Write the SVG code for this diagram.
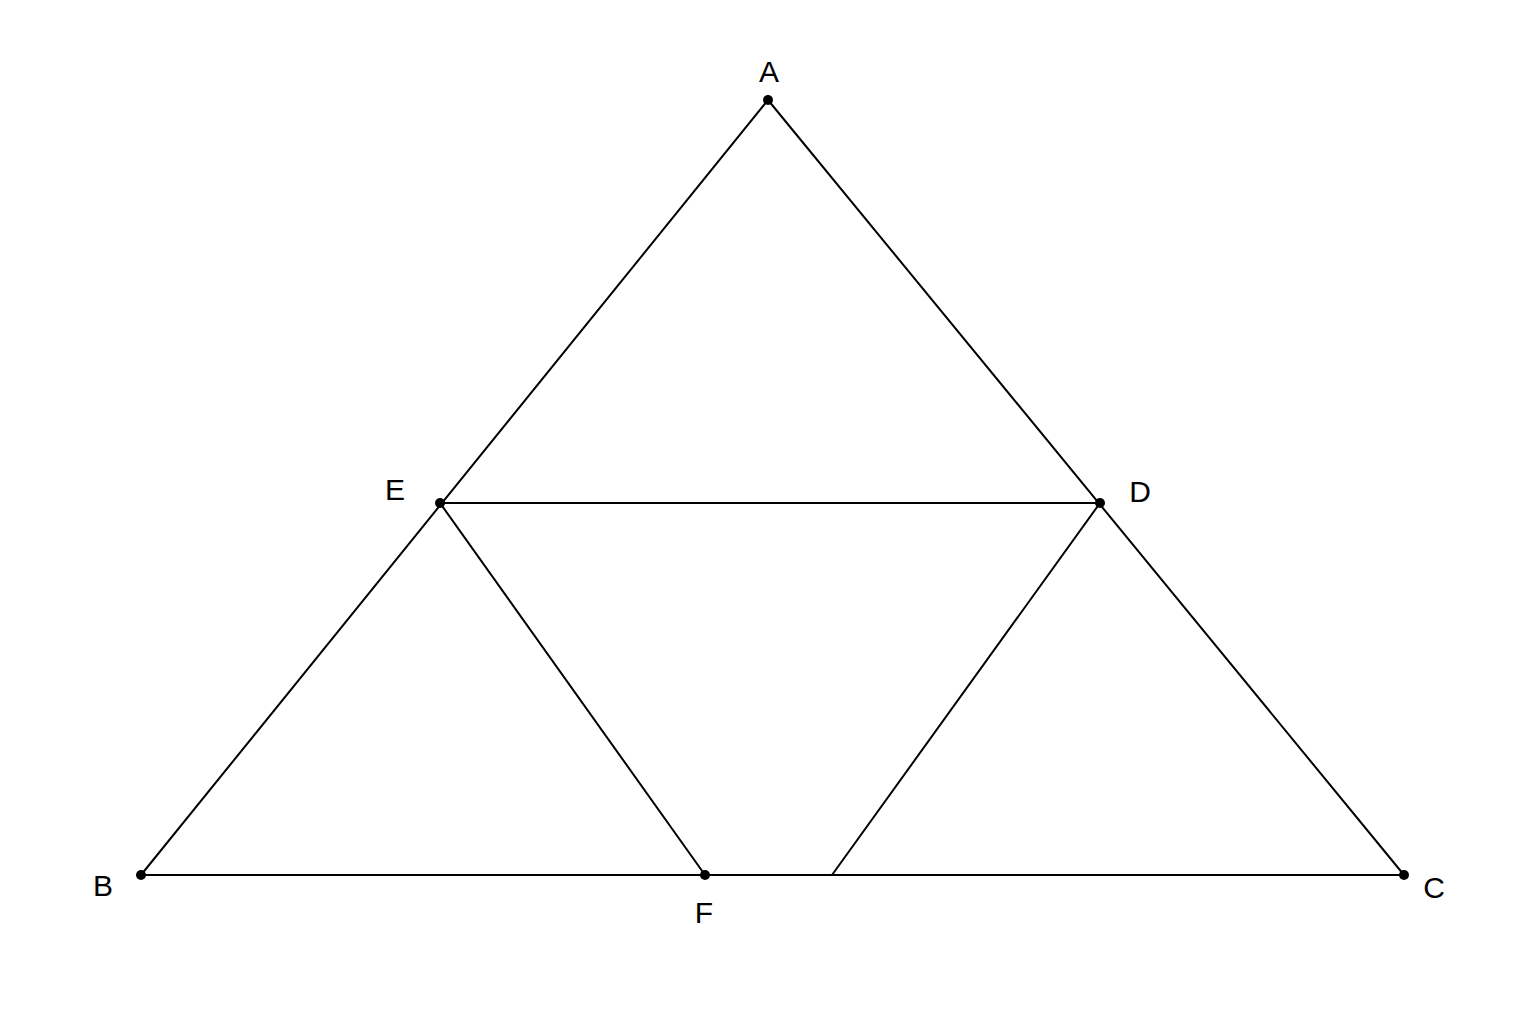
<svg xmlns="http://www.w3.org/2000/svg" width="1536" height="1024" viewBox="0 0 1536 1024">
<style>
.seg{stroke:#000;stroke-width:2;fill:none;stroke-linecap:round}
.pt{fill:#000}
.lbl{font-family:"Liberation Sans",Arial,sans-serif;font-size:30px;fill:#000;text-anchor:middle}
</style>
<rect width="1536" height="1024" fill="#fff"/>
<g id="connectors">
<line class="seg" x1="768" y1="100" x2="141" y2="875"/>
<line class="seg" x1="768" y1="100" x2="1404" y2="875"/>
<line class="seg" x1="141" y1="875" x2="1404" y2="875"/>
<line class="seg" x1="440" y1="503" x2="1100" y2="503"/>
<line class="seg" x1="440" y1="503" x2="705" y2="875"/>
<line class="seg" x1="1100" y1="503" x2="832" y2="875"/>
</g>
<g id="A"><circle class="pt" cx="768" cy="100" r="5"/><text class="lbl" x="769" y="82">A</text></g>
<g id="E"><circle class="pt" cx="440" cy="503" r="5"/><text class="lbl" x="395" y="500">E</text></g>
<g id="D"><circle class="pt" cx="1100" cy="503" r="5"/><text class="lbl" x="1140" y="502">D</text></g>
<g id="B"><circle class="pt" cx="141" cy="875" r="5"/><text class="lbl" x="103" y="896">B</text></g>
<g id="F"><circle class="pt" cx="705" cy="875" r="5"/><text class="lbl" x="704" y="923">F</text></g>
<g id="C"><circle class="pt" cx="1404" cy="875" r="5"/><text class="lbl" x="1434" y="898">C</text></g>
</svg>
